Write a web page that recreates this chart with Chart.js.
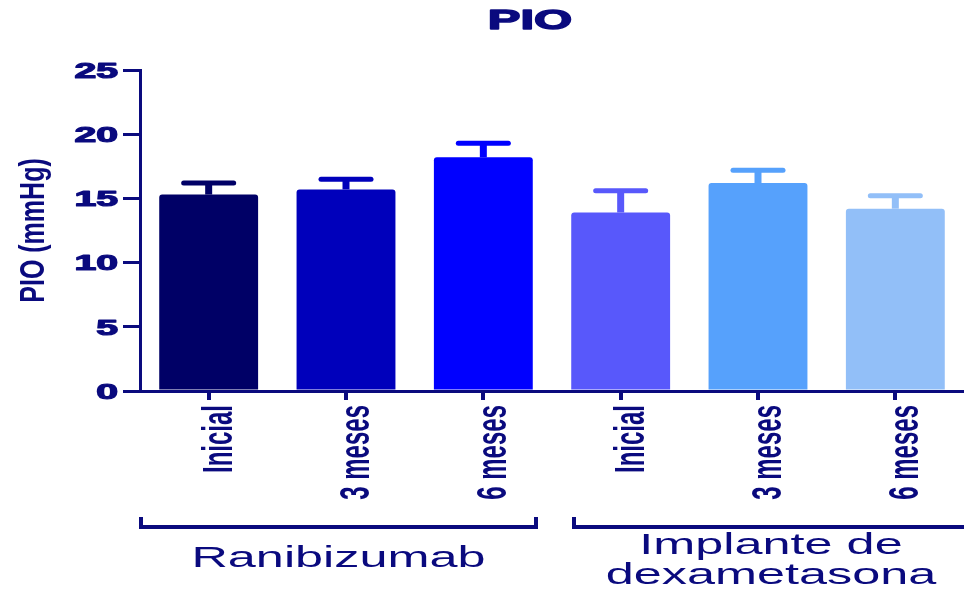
<!DOCTYPE html>
<html>
<head>
<meta charset="utf-8">
<script src="https://cdn.jsdelivr.net/npm/chart.js@4.4.1/dist/chart.umd.min.js"></script>
<style>
  html, body { margin: 0; padding: 0; background: #fff; overflow: hidden; }
  canvas { display: block; }
</style>
</head>
<body>
<canvas id="pioChart" width="964" height="600"></canvas>
<script>
// values
const categories = ['Inicial', '3 meses', '6 meses', 'Inicial', '3 meses', '6 meses'];
const pioMeans = [15.3, 15.7, 18.2, 13.9, 16.2, 14.2];
const pioErrors = [0.9, 0.8, 1.1, 1.7, 1.0, 1.0];
const barColors = ['#000066', '#0000bb', '#0000ff', '#5858fb', '#56a1fc', '#92bff8'];
const groupNames = [['Ranibizumab'], ['Implante de', 'dexametasona']];
const groupRanges = [[0, 2], [3, 5]];

const navy = '#0a0a7e';
const FONT = '"Liberation Sans", Arial, sans-serif';

// text in the original is stretched horizontally, so draw it with a scale
function drawText(ctx, text, x, y, font, sx, align, rotated, heavy) {
  ctx.save();
  ctx.translate(x, y);
  ctx.scale(sx, 1);
  if (rotated) ctx.rotate(-Math.PI / 2);
  ctx.font = font;
  ctx.textAlign = align;
  ctx.textBaseline = 'alphabetic';
  ctx.fillStyle = navy;
  ctx.fillText(text, 0, 0);
  if (heavy) {
    // fake an extra-bold weight
    ctx.strokeStyle = navy;
    ctx.lineWidth = heavy;
    ctx.lineJoin = 'round';
    ctx.strokeText(text, 0, 0);
  }
  ctx.restore();
}

const errorBars = {
  id: 'errorBars',
  afterDatasetsDraw(chart) {
    const ctx = chart.ctx;
    const yScale = chart.scales.y;
    chart.getDatasetMeta(0).data.forEach((bar, i) => {
      const top = yScale.getPixelForValue(pioMeans[i] + pioErrors[i]);
      ctx.save();
      ctx.strokeStyle = barColors[i];
      ctx.lineWidth = 7;
      ctx.beginPath();
      ctx.moveTo(bar.x, bar.y);
      ctx.lineTo(bar.x, top);
      ctx.stroke();
      ctx.lineWidth = 5;
      ctx.lineCap = 'round';
      ctx.beginPath();
      ctx.moveTo(bar.x - 25, top);
      ctx.lineTo(bar.x + 25, top);
      ctx.stroke();
      ctx.restore();
    });
  }
};

const labelsPlugin = {
  id: 'labelsPlugin',
  afterDraw(chart) {
    const ctx = chart.ctx;
    const xScale = chart.scales.x;
    const yScale = chart.scales.y;
    const area = chart.chartArea;

    // title
    drawText(ctx, 'PIO', 530, 29, 'bold 28px ' + FONT, 1.75, 'center', false, 1.4);

    // y tick labels
    yScale.ticks.forEach(t => {
      const py = yScale.getPixelForValue(t.value);
      drawText(ctx, String(t.value), 118, py + 7.8, 'bold 22px ' + FONT, 1.78, 'right', false, 1.2);
    });

    // y axis title
    drawText(ctx, 'PIO (mmHg)', 44, (area.top + area.bottom) / 2, 'bold 25px ' + FONT, 1.38, 'center', true, 0);

    // x tick labels, vertical
    categories.forEach((c, i) => {
      const px = xScale.getPixelForValue(i);
      drawText(ctx, c, px + 23, 405, 'bold 24px ' + FONT, 1.75, 'right', true, 0);
    });

    // group brackets and names
    const half = (xScale.getPixelForValue(1) - xScale.getPixelForValue(0)) / 2;
    const insets = [[1, 16], [22, -4]];
    groupRanges.forEach((r, g) => {
      const left = xScale.getPixelForValue(r[0]) - half + insets[g][0];
      const right = xScale.getPixelForValue(r[1]) + half - insets[g][1];
      ctx.save();
      ctx.strokeStyle = navy;
      ctx.lineWidth = 4;
      ctx.beginPath();
      ctx.moveTo(left, 517);
      ctx.lineTo(left, 527);
      ctx.lineTo(right, 527);
      ctx.lineTo(right, 517);
      ctx.stroke();
      ctx.restore();

      const cx = (left + right) / 2;
      const lines = groupNames[g];
      const base = lines.length === 1 ? 567 : 554;
      lines.forEach((ln, k) => {
        drawText(ctx, ln, cx, base + k * 30, '30px ' + FONT, 1.68, 'center', false, 0);
      });
    });
  }
};

const ctx = document.getElementById('pioChart').getContext('2d');
new Chart(ctx, {
  type: 'bar',
  data: {
    labels: categories,
    datasets: [{
      data: pioMeans,
      backgroundColor: barColors,
      borderWidth: 0,
      borderRadius: 3,
      barPercentage: 0.72,
      categoryPercentage: 1
    }]
  },
  options: {
    responsive: false,
    animation: false,
    layout: { padding: { top: 70, left: 0, right: 0, bottom: 0 } },
    plugins: {
      legend: { display: false },
      tooltip: { enabled: false },
      title: { display: false }
    },
    scales: {
      x: {
        z: 1,
        ticks: { display: false },
        grid: {
          offset: false,
          drawOnChartArea: false,
          drawTicks: true,
          tickLength: 9,
          lineWidth: 4,
          color: navy
        },
        border: { color: navy, width: 3 },
        afterFit(scale) { scale.height = 209; }
      },
      y: {
        min: 0,
        max: 25,
        ticks: { display: false, stepSize: 5 },
        grid: {
          drawOnChartArea: false,
          drawTicks: true,
          tickLength: 17,
          lineWidth: 3,
          color: navy
        },
        border: { color: navy, width: 3 },
        afterFit(scale) { scale.width = 140; }
      }
    }
  },
  plugins: [errorBars, labelsPlugin]
});
</script>
</body>
</html>
